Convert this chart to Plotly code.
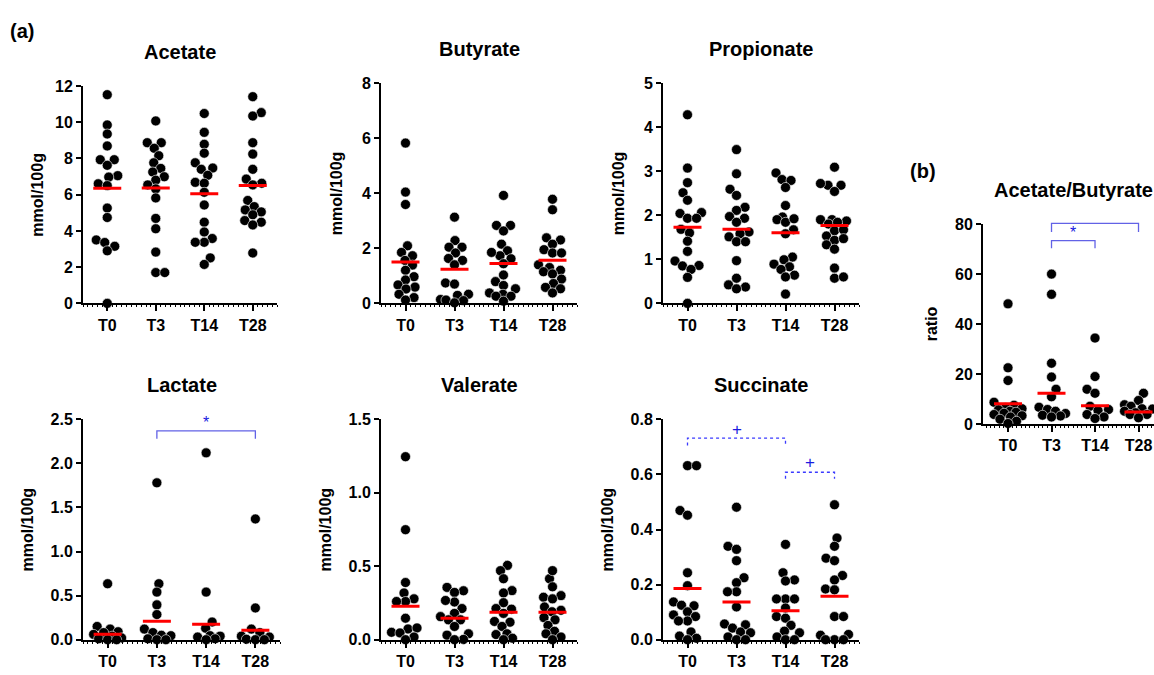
import math
import plotly.graph_objects as go

W, H = 1154, 675
groups = ["T0", "T3", "T14", "T28"]

# ---------------- data ----------------
acetate = [
    [11.52, 9.85, 9.35, 8.69, 7.93, 7.93, 7.62, 7.05, 6.97, 6.6, 6.5, 5.26, 4.74, 3.5, 3.36, 3.15, 2.9, 0.0],
    [10.07, 8.87, 8.87, 8.56, 8.15, 7.76, 7.45, 7.25, 6.99, 6.8, 6.54, 6.32, 5.82, 4.69, 4.12, 2.83, 1.7, 1.7],
    [10.48, 9.44, 8.78, 8.29, 7.76, 7.47, 7.4, 7.07, 6.68, 6.63, 6.13, 5.43, 4.48, 3.94, 3.58, 3.37, 3.37, 2.51, 2.15],
    [11.41, 10.53, 10.34, 8.87, 8.24, 7.4, 6.86, 6.63, 6.54, 5.68, 5.34, 5.16, 5.05, 4.89, 4.57, 4.48, 4.33, 2.78],
]
acetate_mean = [6.35, 6.37, 6.05, 6.5]

butyrate = [
    [5.82, 4.04, 3.59, 2.09, 1.85, 1.73, 1.56, 1.39, 1.2, 0.97, 0.85, 0.67, 0.59, 0.52, 0.33, 0.21, 0.12],
    [3.13, 2.28, 2.04, 2.04, 1.83, 1.63, 1.56, 1.4, 0.74, 0.7, 0.29, 0.33, 0.14, 0.12, 0.1, 0.02],
    [3.92, 2.83, 2.83, 2.63, 2.15, 1.91, 1.73, 1.85, 1.62, 1.44, 1.03, 0.79, 0.65, 0.53, 0.38, 0.33, 0.26, 0.26, 0.08],
    [3.78, 3.4, 2.38, 2.3, 2.15, 1.95, 1.83, 1.83, 1.4, 1.3, 1.2, 1.15, 1.07, 0.88, 0.72, 0.58, 0.53, 0.38],
]
butyrate_mean = [1.5, 1.24, 1.45, 1.57]

propionate = [
    [4.28, 3.07, 2.74, 2.51, 2.34, 2.04, 2.06, 1.93, 1.93, 1.68, 1.6, 1.41, 1.18, 0.96, 0.86, 0.85, 0.77, 0.59, 0.0],
    [3.49, 2.94, 2.59, 2.45, 2.18, 2.11, 1.97, 1.93, 1.84, 1.62, 1.58, 1.51, 1.4, 1.4, 0.97, 0.57, 0.42, 0.37, 0.33],
    [2.96, 2.81, 2.79, 2.63, 2.22, 1.96, 1.9, 1.84, 1.92, 1.67, 1.58, 1.05, 0.99, 0.89, 0.83, 0.77, 0.64, 0.6, 0.21],
    [3.09, 2.68, 2.68, 2.54, 2.72, 1.9, 1.87, 1.9, 1.8, 1.84, 1.65, 1.67, 1.53, 1.43, 1.47, 1.33, 1.23, 0.8, 0.57, 0.6],
]
propionate_mean = [1.73, 1.68, 1.6, 1.77]

lactate = [
    [0.635, 0.15, 0.12, 0.09, 0.08, 0.06, 0.04, 0.02, 0.01, 0.0, 0.0],
    [1.78, 0.635, 0.54, 0.395, 0.285, 0.12, 0.08, 0.05, 0.045, 0.01, 0.0, 0.0],
    [2.12, 0.54, 0.2, 0.13, 0.045, 0.04, 0.03, 0.01, 0.0],
    [1.37, 0.36, 0.12, 0.08, 0.04, 0.03, 0.005, 0.0, 0.0],
]
lactate_mean = [0.063, 0.21, 0.174, 0.107]

valerate = [
    [1.246, 0.749, 0.389, 0.318, 0.278, 0.26, 0.26, 0.146, 0.073, 0.08, 0.05, 0.046, 0.018, 0.0],
    [0.356, 0.333, 0.322, 0.256, 0.267, 0.212, 0.179, 0.157, 0.135, 0.135, 0.09, 0.04, 0.031, 0.002, 0.0],
    [0.506, 0.47, 0.415, 0.334, 0.318, 0.252, 0.212, 0.208, 0.179, 0.119, 0.124, 0.09, 0.04, 0.035, 0.01, 0.0],
    [0.415, 0.47, 0.36, 0.289, 0.3, 0.278, 0.223, 0.2, 0.19, 0.15, 0.135, 0.097, 0.057, 0.04, 0.018, 0.0],
]
valerate_mean = [0.228, 0.146, 0.186, 0.186]

succinate = [
    [0.632, 0.632, 0.469, 0.452, 0.243, 0.196, 0.137, 0.125, 0.123, 0.101, 0.09, 0.084, 0.068, 0.068, 0.028, 0.013, 0.005, 0.0],
    [0.481, 0.339, 0.328, 0.287, 0.225, 0.207, 0.174, 0.174, 0.119, 0.057, 0.054, 0.042, 0.028, 0.025, 0.01, 0.0, 0.0],
    [0.346, 0.243, 0.217, 0.213, 0.148, 0.148, 0.148, 0.115, 0.084, 0.078, 0.052, 0.031, 0.025, 0.01, 0.0, 0.0],
    [0.49, 0.369, 0.339, 0.296, 0.287, 0.233, 0.217, 0.184, 0.181, 0.084, 0.084, 0.019, 0.016, 0.0, 0.0, 0.0],
]
succinate_mean = [0.186, 0.137, 0.105, 0.158]

ratio = [
    [48.2, 22.6, 17.5, 8.8, 7.6, 6.6, 6.2, 5.8, 5.2, 4.8, 4.4, 3.9, 3.4, 2.9, 2.0, 1.2, 0.3],
    [60.1, 52.0, 24.4, 18.9, 14.0, 11.0, 6.8, 5.9, 5.2, 4.3, 3.6, 3.3, 2.9],
    [34.5, 19.1, 14.0, 12.4, 7.2, 5.5, 5.9, 3.9, 2.9, 2.3],
    [12.4, 9.5, 7.8, 7.2, 6.2, 6.1, 5.2, 4.6, 3.9, 3.9, 2.6],
]
ratio_mean = [8.2, 12.4, 7.4, 4.9]

# significance brackets: (from group, to group, top value, end value, label value, symbol)
lactate_sig = [(1, 3, 2.37, 2.28, 2.47, "*")]
succinate_sig = [(0, 2, 0.732, 0.705, 0.765, "+"), (2, 3, 0.608, 0.584, 0.645, "+")]
ratio_sig = [(1, 3, 80.4, 77.0, 83.8, "*"), (1, 2, 73.5, 70.5, 76.8, "*")]

# ---------------- layout / style ----------------
FONT = "Arial, Liberation Sans, sans-serif"
panels = [
    dict(name="Acetate", data=acetate, mean=acetate_mean, xpx=(83, 277), ypx=(80, 303), yr=12, dt=2, fmt="d", ttl=45, sig=[], dash=None, lab="mmol/100g"),
    dict(name="Butyrate", data=butyrate, mean=butyrate_mean, xpx=(381, 577), ypx=(77, 303), yr=8, dt=2, fmt="d", ttl=45, sig=[], dash=None, lab="mmol/100g"),
    dict(name="Propionate", data=propionate, mean=propionate_mean, xpx=(663, 859), ypx=(77, 303), yr=5, dt=1, fmt="d", ttl=45, sig=[], dash=None, lab="mmol/100g"),
    dict(name="Lactate", data=lactate, mean=lactate_mean, xpx=(83, 280), ypx=(422, 648), yr=2.5, dt=0.5, fmt=".1f", ttl=55, sig=lactate_sig, dash="solid", lab="mmol/100g"),
    dict(name="Valerate", data=valerate, mean=valerate_mean, xpx=(381, 577), ypx=(422, 648), yr=1.5, dt=0.5, fmt=".1f", ttl=55, sig=[], dash=None, lab="mmol/100g"),
    dict(name="Succinate", data=succinate, mean=succinate_mean, xpx=(663, 859), ypx=(422, 648), yr=0.8, dt=0.2, fmt=".1f", ttl=55, sig=succinate_sig, dash="dot", lab="mmol/100g"),
    dict(name="Acetate/Butyrate", data=ratio, mean=ratio_mean, xpx=(983, 1154), ypx=(222, 427), yr=80, dt=20, fmt="d", ttl=52, sig=ratio_sig, dash="solid", lab="ratio", xr=(-0.575, 3.356)),
]

DIAM = 8.8   # collision diameter in px for the swarm
MAXW = 14.0  # maximum horizontal spread (px) from the group centre


def swarm_offsets(values, px_per_y):
    order = sorted(range(len(values)), key=lambda i: values[i])
    placed = []
    offs = [0.0] * len(values)
    flip = 1
    grid = [i * 0.5 for i in range(int(-MAXW * 2), int(MAXW * 2) + 1)]
    for idx in order:
        yp = values[idx] * px_per_y
        best, best_key = 0.0, None
        for c in grid:
            dmin = min([math.hypot(c - xq, yp - yq) for (xq, yq) in placed] or [1e9])
            ok = dmin >= DIAM
            key = (0, abs(c), -flip * c) if ok else (1, -dmin, abs(c))
            if best_key is None or key < best_key:
                best_key, best = key, c
        if best != 0:
            flip = -flip
        placed.append((best, yp))
        offs[idx] = best
    return offs


fig = go.Figure()
layout = dict(
    width=W, height=H, margin=dict(l=0, r=0, t=0, b=0),
    paper_bgcolor="white", plot_bgcolor="white", showlegend=False,
    font=dict(family=FONT, color="black"),
)
annotations = []
shapes = []

for k, p in enumerate(panels):
    sfx = "" if k == 0 else str(k + 1)
    xa, ya = "x" + sfx, "y" + sfx
    x0, x1 = p["xpx"]
    ytop, ybot = p["ypx"]
    xr = p.get("xr", (-0.5, 3.5))
    ppx = (x1 - x0) / (xr[1] - xr[0])
    ppy = (ybot - ytop) / p["yr"]
    half = 14.0 / ppx

    xs, ys = [], []
    for g, vals in enumerate(p["data"]):
        offs = swarm_offsets(vals, ppy)
        xs += [g + o / ppx for o in offs]
        ys += list(vals)
    fig.add_trace(go.Scatter(
        x=xs, y=ys, mode="markers", xaxis=xa, yaxis=ya, cliponaxis=False,
        marker=dict(size=10, color="black", line=dict(color="white", width=0.6)),
        hoverinfo="y",
    ))
    for g, m in enumerate(p["mean"]):
        fig.add_trace(go.Scatter(
            x=[g - half, g + half], y=[m, m], mode="lines", xaxis=xa, yaxis=ya,
            line=dict(color="#ff0000", width=3), hoverinfo="skip",
        ))

    layout["xaxis" + sfx] = dict(
        domain=[x0 / W, x1 / W], anchor=ya, range=list(xr),
        tickmode="array", tickvals=[0, 1, 2, 3], ticktext=groups,
        showline=True, linecolor="black", linewidth=2, mirror=False,
        ticks="outside", ticklen=6, tickwidth=2, tickcolor="black",
        tickfont=dict(family=FONT, size=16, color="black", weight="bold"),
        showgrid=False, zeroline=False, fixedrange=True,
        minor=dict(ticks="outside", ticklen=2, tickwidth=1, tickcolor="black",
                   tickmode="linear", tick0=0, dtick=0.1, showgrid=False),
    )
    layout["yaxis" + sfx] = dict(
        domain=[1 - ybot / H, 1 - ytop / H], anchor=xa, range=[0, p["yr"]],
        tickmode="linear", tick0=0, dtick=p["dt"], tickformat=p["fmt"],
        showline=True, linecolor="black", linewidth=2,
        ticks="outside", ticklen=5, tickwidth=2, tickcolor="black",
        tickfont=dict(family=FONT, size=16, color="black", weight="bold"),
        showgrid=False, zeroline=False, fixedrange=True,
    )
    # panel title
    annotations.append(dict(
        text="<b>%s</b>" % p["name"], xref=xa, x=1.5, yref="paper",
        y=1 - (ytop - 35) / H, yanchor="middle", xanchor="center", showarrow=False,
        font=dict(family=FONT, size=20, color="black"),
    ))
    # y axis title
    annotations.append(dict(
        text="<b>%s</b>" % p["lab"], xref=xa + " domain", x=0, xshift=-p["ttl"],
        yref=ya + " domain", y=0.5, textangle=-90, showarrow=False,
        xanchor="center", yanchor="middle",
        font=dict(family=FONT, size=16, color="black"),
    ))

    # significance brackets
    def fx(v):
        return (v - xr[0]) / (xr[1] - xr[0])

    def fy(v):
        return v / p["yr"]

    for (ga, gb, top, end, lv, sym) in p["sig"]:
        path = "M %f,%f L %f,%f L %f,%f L %f,%f" % (
            fx(ga), fy(end), fx(ga), fy(top), fx(gb), fy(top), fx(gb), fy(end))
        shapes.append(dict(
            type="path", path=path, xref=xa + " domain", yref=ya + " domain",
            line=dict(color="#6262e6" if p["dash"] == "solid" else "#3a3aff",
                      width=1.3, dash=p["dash"]),
        ))
        annotations.append(dict(
            text=sym, xref=xa, x=(ga + gb) / 2, yref=ya, y=lv, showarrow=False,
            xanchor="center", yanchor="middle",
            font=dict(family=FONT, size=16 if sym == "*" else 17, color="#1a1ae0"),
        ))

annotations.append(dict(text="<b>(a)</b>", xref="paper", yref="paper", x=22 / W, y=1 - 24 / H,
                        showarrow=False, xanchor="center", yanchor="middle",
                        font=dict(family=FONT, size=20, color="black")))
annotations.append(dict(text="<b>(b)</b>", xref="paper", yref="paper", x=923 / W, y=1 - 167 / H,
                        showarrow=False, xanchor="center", yanchor="middle",
                        font=dict(family=FONT, size=20, color="black")))

layout["annotations"] = annotations
layout["shapes"] = shapes
fig.update_layout(**layout)
fig.write_html("out.html")
